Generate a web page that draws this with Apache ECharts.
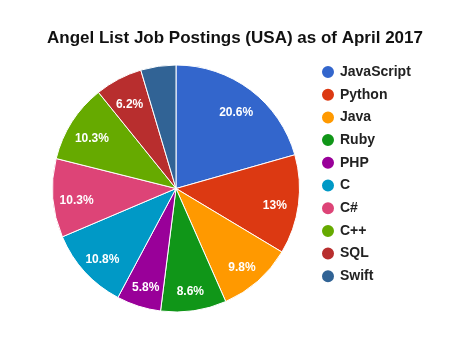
<!DOCTYPE html>
<html>
<head>
<meta charset="utf-8">
<script src="https://cdn.jsdelivr.net/npm/echarts@6/dist/echarts.min.js"></script>
<style>html,body{margin:0;padding:0;background:#fff;}#c{width:470px;height:337px;}</style>
</head>
<body>
<div id="c"></div>
<script>
var categories = ['JavaScript','Python','Java','Ruby','PHP','C','C#','C++','SQL','Swift'];
var values = [20.6, 13, 9.8, 8.6, 5.8, 10.8, 10.3, 10.3, 6.2, 4.6];
var colors = ['#3366cc','#dc3912','#ff9900','#109618','#990099','#0099c6','#dd4477','#66aa00','#b82e2e','#316395'];

var FONT = '"Liberation Sans", Arial, sans-serif';
var data = categories.map(function(n,i){ return {name:n, value:values[i]}; });
var labelData = categories.map(function(n,i){
  return {name:n, value:values[i], label:{show: values[i] >= 5}};
});
var chart = echarts.init(document.getElementById('c'), null, {renderer:'canvas'});
chart.setOption({
  animation:false,
  color: colors,
  title:{
    text:'Angel List Job Postings (USA) as of April 2017',
    left:'center', top:25,
    textStyle:{fontFamily:FONT, fontSize:17, fontWeight:'bold', color:'#111'}
  },
  legend:{
    orient:'vertical', left:315, top:59, itemGap:6.7,
    icon:'circle', itemWidth:14, itemHeight:14,
    data: categories,
    textStyle:{fontFamily:FONT, fontSize:14, fontWeight:'bold', color:'#222'}
  },
  series:[{
    type:'pie', radius:[0,123.5], center:[176,188.5],
    startAngle:90, clockwise:true,
    data:data,
    label:{show:false}, labelLine:{show:false},
    itemStyle:{borderColor:'#fff', borderWidth:1},
    emphasis:{disabled:true}
  },{
    type:'pie', radius:[70,123.5], center:[176,188.5],
    startAngle:90, clockwise:true, silent:true,
    data:labelData,
    itemStyle:{color:'rgba(0,0,0,0)', borderWidth:0},
    labelLine:{show:false},
    label:{position:'inside', offset:[0,4], formatter:function(p){return p.value+'%';},
      color:'#fff', fontFamily:FONT, fontSize:12, fontWeight:'bold'},
    emphasis:{disabled:true}
  }]
});
</script>
</body>
</html>
